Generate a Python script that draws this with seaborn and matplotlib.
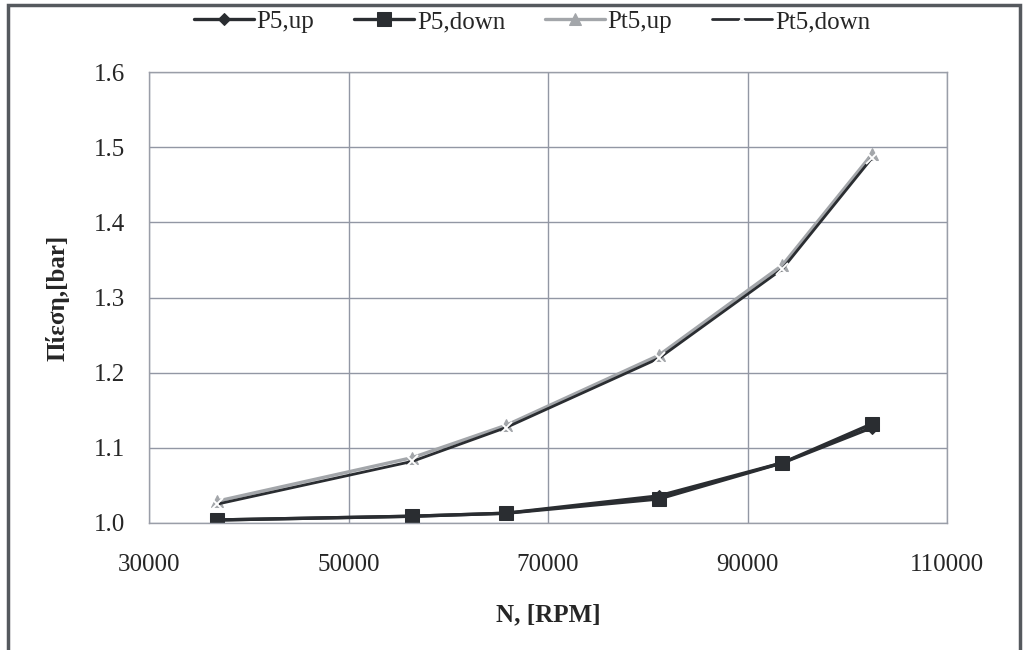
import pandas as pd
import matplotlib.pyplot as plt
import seaborn as sns
from matplotlib.patches import Rectangle

sns.set_style("whitegrid")
plt.rcParams["font.family"] = ["Liberation Serif", "DejaVu Serif"]

# rotational speed [RPM]
rpm = [36800, 56400, 65800, 81100, 93500, 102500]

# pressures [bar]
p5_up = [1.004, 1.009, 1.013, 1.036, 1.080, 1.127]
p5_down = [1.004, 1.009, 1.013, 1.032, 1.080, 1.132]
pt5_up = [1.029, 1.087, 1.130, 1.223, 1.343, 1.491]
pt5_down = [1.025, 1.082, 1.127, 1.219, 1.338, 1.486]

data = pd.DataFrame({"N": rpm, "P5,up": p5_up, "P5,down": p5_down,
                     "Pt5,up": pt5_up, "Pt5,down": pt5_down})

fig = plt.figure(figsize=(10.27, 6.5), dpi=100)
ax = fig.add_axes([0.1451, 0.1954, 0.7770, 0.6938])

dark = "#2a2d31"
light = "#a3a6aa"
sns.lineplot(x=data["N"], y=data["P5,up"], marker="D", markersize=6, color=dark,
             linewidth=2.4, label="P5,up", ax=ax, markeredgecolor=dark)
sns.lineplot(x=data["N"], y=data["P5,down"], marker="s", markersize=10, color=dark,
             linewidth=2.4, label="P5,down", ax=ax, markeredgecolor=dark)
sns.lineplot(x=data["N"], y=data["Pt5,up"], marker="^", markersize=8, color=light,
             linewidth=2.4, label="Pt5,up", ax=ax, markeredgecolor=light)
sns.lineplot(x=data["N"], y=data["Pt5,down"], marker="x", markersize=8, color=dark,
             linewidth=2.0, label="Pt5,down", ax=ax, markeredgewidth=1.4)

ax.set_xlim(30000, 110000)
ax.set_ylim(1.0, 1.6)
ax.set_xticks([30000, 50000, 70000, 90000, 110000])
ax.set_yticks([1.0, 1.1, 1.2, 1.3, 1.4, 1.5, 1.6])
ax.set_yticklabels(["1.0", "1.1", "1.2", "1.3", "1.4", "1.5", "1.6"])
ax.grid(True, color="#9297a4", linewidth=1.0)
for s in ax.spines.values():
    s.set_color("#9a9ea8")
    s.set_linewidth(1.0)
ax.tick_params(axis="x", labelsize=18, pad=22, length=0)
ax.tick_params(axis="y", labelsize=18, pad=17, length=0)

ax.set_xlabel("N, [RPM]", fontsize=18, fontweight="bold", labelpad=20)
ax.set_ylabel("Πίεση,[bar]", fontsize=18, fontweight="bold", labelpad=18)

ax.legend(loc="center", bbox_to_anchor=(0.48, 1.111), ncol=4, frameon=False,
          fontsize=18, handlelength=2.4, handletextpad=0.1, columnspacing=1.6)

fig.patches.append(Rectangle((0.008, -0.1), 0.985, 1.092, transform=fig.transFigure,
                             fill=False, edgecolor="#55595e", linewidth=2.5))

plt.savefig("out.png", dpi=100)
